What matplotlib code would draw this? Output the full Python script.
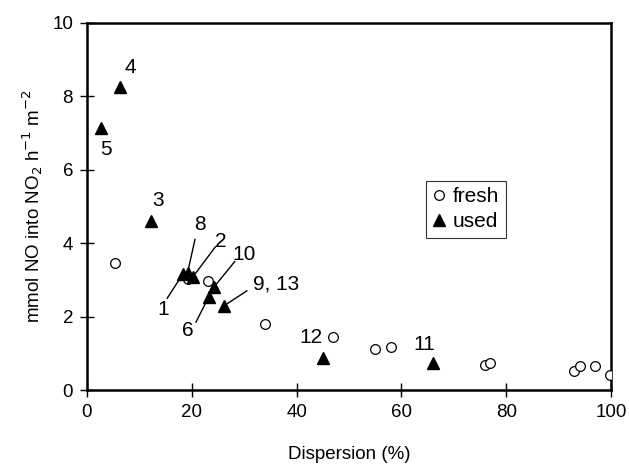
import matplotlib
matplotlib.use("Agg")
import matplotlib.pyplot as plt

plt.rcParams['font.family'] = ['Liberation Sans', 'DejaVu Sans']

fresh_x = [5.3, 19.2, 23.0, 33.9, 47.0, 55.0, 58.0, 76.0, 77.0, 93.0, 94.0, 97.0, 99.8]
fresh_y = [3.46, 3.02, 2.96, 1.80, 1.44, 1.12, 1.17, 0.68, 0.74, 0.52, 0.65, 0.65, 0.41]

used_x = [18.3, 20.2, 12.2, 6.3, 2.7, 23.2, 19.2, 26.2, 24.2, 66.0, 45.0]
used_y = [3.16, 3.08, 4.60, 8.26, 7.14, 2.53, 3.20, 2.30, 2.80, 0.74, 0.87]
used_labels = ["1", "2", "3", "4", "5", "6", "8", "9, 13", "10", "11", "12"]

# label positions (data coords) and whether a leader line is drawn
label_pos = {
    "1": (14.5, 2.2, True),
    "2": (25.6, 4.06, True),
    "3": (13.5, 5.16, False),
    "4": (8.2, 8.79, False),
    "5": (3.6, 6.54, False),
    "6": (19.3, 1.63, True),
    "8": (21.5, 4.52, True),
    "9, 13": (36.1, 2.88, True),
    "10": (30.0, 3.7, True),
    "11": (64.3, 1.24, False),
    "12": (42.8, 1.43, False),
}
line_starts = {
    "1": (15.3, 2.5),
    "2": (24.5, 3.9),
    "6": (20.8, 1.85),
    "8": (20.6, 4.1),
    "9, 13": (30.5, 2.7),
    "10": (28.2, 3.5),
}

fig = plt.figure(figsize=(6.29, 4.69), dpi=100)
ax = fig.add_axes([0.1383, 0.1684, 0.8331, 0.7826])

ax.plot(fresh_x, fresh_y, linestyle='none', marker='o', markersize=7,
        markerfacecolor='white', markeredgecolor='black', markeredgewidth=0.9,
        label='fresh', zorder=3)
ax.plot(used_x, used_y, linestyle='none', marker='^', markersize=8.5,
        markerfacecolor='black', markeredgecolor='black',
        label='used', zorder=4)

for lbl, x, y in zip(used_labels, used_x, used_y):
    tx, ty, has_line = label_pos[lbl]
    ax.text(tx, ty, lbl, fontsize=15, ha='center', va='center', zorder=5)
    if has_line:
        sx, sy = line_starts[lbl]
        ax.plot([sx, x + (sx - x) * 0.12], [sy, y + (sy - y) * 0.12],
                color='black', linewidth=1.0, zorder=2)

ax.set_xlim(0, 100)
ax.set_ylim(0, 10)
ax.set_xticks([0, 20, 40, 60, 80, 100])
ax.set_yticks([0, 2, 4, 6, 8, 10])
ax.tick_params(direction='inout', length=10, width=1, labelsize=13.5)
ax.tick_params(axis='x', pad=5)
ax.tick_params(axis='y', pad=5)
for s in ax.spines.values():
    s.set_linewidth(1.8)

ax.set_xlabel('Dispersion (%)', fontsize=13.5, labelpad=18)
ax.set_ylabel(r'mmol NO into NO$_2$ h$^{-1}$ m$^{-2}$', fontsize=13.5, labelpad=5)

leg = ax.legend(loc='upper left', bbox_to_anchor=(0.647, 0.57), fontsize=15,
                frameon=True, fancybox=False, handlelength=0.6,
                handletextpad=0.4, borderpad=0.3, labelspacing=0.3,
                borderaxespad=0)
leg.get_frame().set_edgecolor('black')
leg.get_frame().set_linewidth(0.8)

fig.savefig('out.png', dpi=100)
